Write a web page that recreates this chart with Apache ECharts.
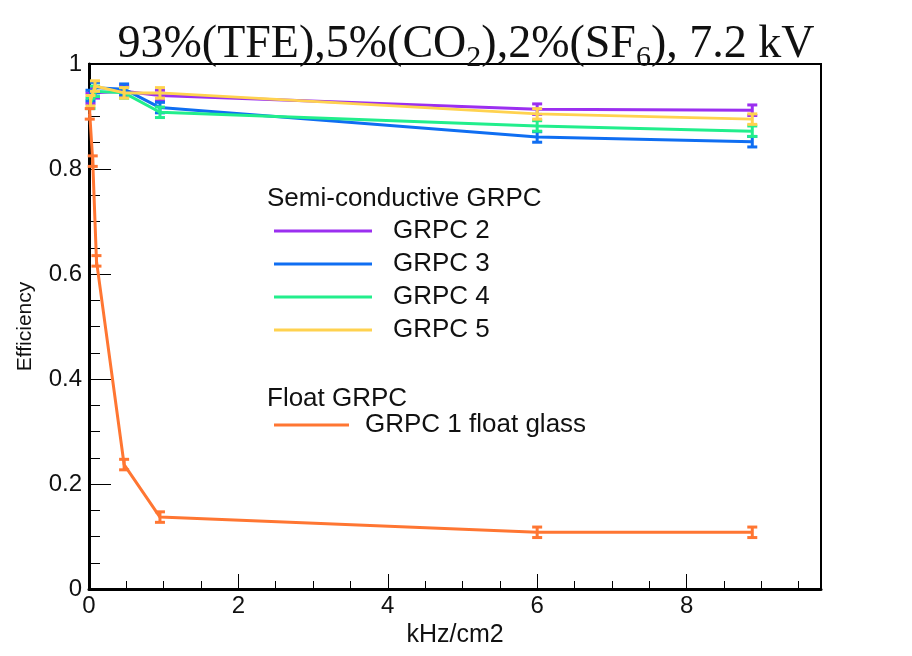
<!DOCTYPE html>
<html>
<head>
<meta charset="utf-8">
<script src="https://cdn.jsdelivr.net/npm/echarts@6/dist/echarts.min.js"></script>
<style>html,body{margin:0;padding:0;background:#fff;}#c{width:912px;height:656px;}</style>
</head>
<body>
<div id="c"></div>
<script>
// ---- data ----
const semiX = [0.02, 0.08, 0.47, 0.95, 6.0, 8.88];
const grpc2 = [0.935, 0.945, 0.948, 0.940, 0.914, 0.912];
const grpc3 = [0.940, 0.955, 0.952, 0.917, 0.861, 0.852];
const grpc4 = [0.925, 0.948, 0.945, 0.908, 0.882, 0.872];
const grpc5 = [0.930, 0.958, 0.945, 0.945, 0.905, 0.895];
const semiErr = [0.010, 0.010, 0.010, 0.010, 0.010, 0.010];
const floatX = [0.01, 0.05, 0.10, 0.47, 0.95, 6.0, 8.88];
const grpc1 = [0.905, 0.815, 0.625, 0.237, 0.137, 0.108, 0.108];
const floatErr = [0.010, 0.010, 0.010, 0.010, 0.010, 0.010, 0.010];
const seriesNames = ['GRPC 2', 'GRPC 3', 'GRPC 4', 'GRPC 5', 'GRPC 1 float glass'];
const colors = ['#9b2ff0', '#0f6ef2', '#22ee8c', '#ffd24f', '#ff7632'];

const SANS = 'Liberation Sans, Arial, sans-serif';

function pairs(xs, ys) { return xs.map((x, i) => [x, ys[i]]); }
function errs(xs, ys, es) { return xs.map((x, i) => [x, ys[i], es[i]]); }

function errRender(color) {
  return function (params, api) {
    const x = api.value(0), y = api.value(1), e = api.value(2);
    const lo = api.coord([x, y - e]);
    const hi = api.coord([x, y + e]);
    const hw = 5;
    const st = { stroke: color, lineWidth: 3 };
    return {
      type: 'group',
      children: [
        { type: 'line', shape: { x1: lo[0], y1: lo[1], x2: hi[0], y2: hi[1] }, style: st },
        { type: 'line', shape: { x1: lo[0] - hw, y1: lo[1], x2: lo[0] + hw, y2: lo[1] }, style: st },
        { type: 'line', shape: { x1: hi[0] - hw, y1: hi[1], x2: hi[0] + hw, y2: hi[1] }, style: st }
      ]
    };
  };
}

const ys = [grpc2, grpc3, grpc4, grpc5];
const series = [];
ys.forEach((arr, i) => {
  series.push({
    name: seriesNames[i], type: 'line', data: pairs(semiX, arr),
    symbol: 'none', lineStyle: { width: 3, color: colors[i] }, itemStyle: { color: colors[i] },
    z: 3 + i
  });
  series.push({
    type: 'custom', data: errs(semiX, arr, semiErr), renderItem: errRender(colors[i]),
    encode: { x: 0, y: 1 }, z: 3 + i, silent: true
  });
});
series.push({
  name: seriesNames[4], type: 'line', data: pairs(floatX, grpc1),
  symbol: 'none', lineStyle: { width: 3, color: colors[4] }, itemStyle: { color: colors[4] }, z: 8
});
series.push({
  type: 'custom', data: errs(floatX, grpc1, floatErr), renderItem: errRender(colors[4]),
  encode: { x: 0, y: 1 }, z: 8, silent: true
});

function legendItem(name, left, cy, w, gap) {
  return {
    data: [name], orient: 'vertical', left: left, top: cy - 14, padding: 0,
    icon: 'rect', itemWidth: w, itemHeight: 3, selectedMode: false,
    textStyle: { fontFamily: SANS, fontSize: 26, color: '#111', lineHeight: 28, padding: [0, 0, 0, gap] }
  };
}

const chart = echarts.init(document.getElementById('c'));
chart.setOption({
  animation: false,
  backgroundColor: '#fff',
  title: {
    text: '93%(TFE),5%(CO{s|2}),2%(SF{s|6}), 7.2 kV',
    left: 466, textAlign: 'center', top: 10, padding: 0,
    textStyle: {
      fontFamily: 'Liberation Serif, Times New Roman, serif', fontSize: 46, color: '#111',
      fontWeight: 'normal', lineHeight: 70, verticalAlign: 'middle',
      rich: { s: { fontFamily: 'Liberation Serif, serif', fontSize: 30, lineHeight: 30, verticalAlign: 'top', padding: [33, 0, 0, 0], color: '#111' } }
    }
  },
  legend: [
    legendItem('GRPC 2', 274, 231, 98, 16),
    legendItem('GRPC 3', 274, 264, 98, 16),
    legendItem('GRPC 4', 274, 297, 98, 16),
    legendItem('GRPC 5', 274, 330, 98, 16),
    legendItem('GRPC 1 float glass', 274, 425, 75, 11)
  ],
  graphic: [
    { type: 'text', left: 267, top: 186, style: { text: 'Semi-conductive GRPC', font: '26px ' + SANS, fill: '#111' } },
    { type: 'text', left: 267, top: 386, style: { text: 'Float GRPC', font: '26px ' + SANS, fill: '#111' } }
  ],
  grid: { left: 89, right: 91, top: 64, bottom: 67, show: true, borderColor: '#000', borderWidth: 2, backgroundColor: 'transparent' },
  xAxis: {
    type: 'value', min: 0, max: 9.8, interval: 2,
    name: 'kHz/cm2', nameLocation: 'middle', nameGap: 26,
    nameTextStyle: { fontFamily: SANS, fontSize: 25, color: '#111' },
    axisLine: { show: true, lineStyle: { color: '#000', width: 3 } },
    axisTick: { show: true, inside: true, length: 15, lineStyle: { color: '#000', width: 1 } },
    minorTick: { show: true, splitNumber: 4, length: 8, lineStyle: { color: '#000', width: 1 } },
    axisLabel: { fontFamily: SANS, fontSize: 24, color: '#111', margin: 5, showMaxLabel: false },
    splitLine: { show: false }
  },
  yAxis: {
    type: 'value', min: 0, max: 1, interval: 0.2,
    name: 'Efficiency', nameLocation: 'middle', nameGap: 53, nameRotate: 90,
    nameTextStyle: { fontFamily: SANS, fontSize: 21, color: '#111' },
    axisLine: { show: true, lineStyle: { color: '#000', width: 3 } },
    axisTick: { show: true, inside: true, length: 22, lineStyle: { color: '#000', width: 1 } },
    minorTick: { show: true, splitNumber: 4, length: 11, lineStyle: { color: '#000', width: 1 } },
    axisLabel: { fontFamily: SANS, fontSize: 24, color: '#111', margin: 7 },
    splitLine: { show: false }
  },
  series: series
});
</script>
</body>
</html>
